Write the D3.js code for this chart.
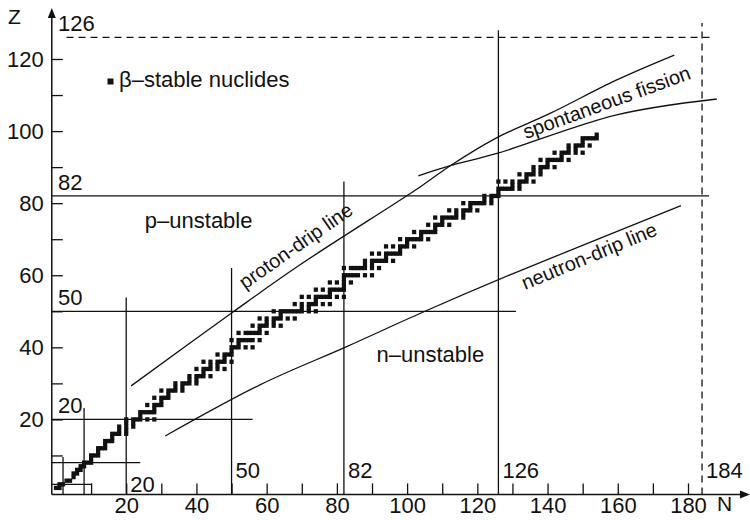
<!DOCTYPE html>
<html>
<head>
<meta charset="utf-8">
<script src="https://cdn.jsdelivr.net/npm/d3@7"></script>
<style>
  body { margin: 0; background: #fff; }
  svg text { font-family: "Liberation Sans", Arial, Helvetica, sans-serif; fill: #111; }
</style>
</head>
<body>
<div id="target"></div>
<script>
const width = 750,
  height = 520;

// beta-stable nuclides: [mass number A, Z of each beta-stable isobar]
const betaStable = [
  [1,1],[2,1],[3,2],[4,2],[6,3],[7,3],[9,4],[10,5],[11,5],[12,6],[13,6],[14,7],[15,7],[16,8],[17,8],[18,8],
  [19,9],[20,10],[21,10],[22,10],[23,11],[24,12],[25,12],[26,12],[27,13],[28,14],[29,14],[30,14],[31,15],
  [32,16],[33,16],[34,16],[35,17],[36,16,18],[37,17],[38,18],[39,19],[40,18,20],[41,19],[42,20],[43,20],
  [44,20],[45,21],[46,20,22],[47,22],[48,20,22],[49,22],[50,22,24],[51,23],[52,24],[53,24],[54,24,26],
  [55,25],[56,26],[57,26],[58,26,28],[59,27],[60,28],[61,28],[62,28],[63,29],[64,28,30],[65,29],[66,30],
  [67,30],[68,30],[69,31],[70,30,32],[71,31],[72,32],[73,32],[74,32,34],[75,33],[76,32,34],[77,34],
  [78,34,36],[79,35],[80,34,36],[81,35],[82,34,36],[83,36],[84,36,38],[85,37],[86,36,38],[87,38],[88,38],
  [89,39],[90,40],[91,40],[92,40,42],[93,41],[94,40,42],[95,42],[96,40,42,44],[97,42],[98,42,44],[99,44],
  [100,42,44],[101,44],[102,44,46],[103,45],[104,44,46],[105,46],[106,46,48],[107,47],[108,46,48],[109,47],
  [110,46,48],[111,48],[112,48,50],[113,49],[114,48,50],[115,50],[116,48,50],[117,50],[118,50],[119,50],
  [120,50,52],[121,51],[122,50,52],[123,51],[124,50,52,54],[125,52],[126,52,54],[127,53],[128,52,54],
  [129,54],[130,52,54,56],[131,54],[132,54,56],[133,55],[134,54,56],[135,56],[136,54,56,58],[137,56],
  [138,56,58],[139,57],[140,58],[141,59],[142,58,60],[143,60],[144,60,62],[145,60],[146,60,62],[147,62],
  [148,60,62],[149,62],[150,60,62],[151,63],[152,62,64],[153,63],[154,62,64],[155,64],[156,64,66],[157,64],
  [158,64,66],[159,65],[160,64,66],[161,66],[162,66,68],[163,66],[164,66,68],[165,67],[166,68],[167,68],
  [168,68,70],[169,69],[170,68,70],[171,70],[172,70],[173,70],[174,70,72],[175,71],[176,70,72],[177,72],
  [178,72],[179,72],[180,72,74],[181,73],[182,74],[183,74],[184,74,76],[185,75],[186,74,76],[187,76],
  [188,76],[189,76],[190,76,78],[191,77],[192,76,78],[193,77],[194,78],[195,78],[196,78,80],[197,79],
  [198,78,80],[199,80],[200,80],[201,80],[202,80],[203,81],[204,80,82],[205,81],[206,82],[207,82],[208,82],
  [209,83],[210,84],[211,84],[212,84,86],[213,84],[214,84,86],[215,85],[216,84,86],[217,85],[218,86],
  [219,86],[220,86,88],[221,87],[222,86,88],[223,88],[224,88],[225,89],[226,88,90],[227,89],[228,90],
  [229,90],[230,90,92],[231,91],[232,90,92],[233,92],[234,92],[235,92],[236,92,94],[237,93],[238,92,94],
  [239,94],[240,94],[241,95],[242,94,96],[243,95],[244,94,96],[245,96],[246,96],[247,97],[248,96,98],
  [249,98],[250,98],[251,98],[252,98],[253,99]
];

// magic numbers and how far each shell line reaches
const magicN = [2, 8, 20, 50, 82, 126, 184];
const magicNTop = [9.6, 23.2, 53.8, 62, 86, 128, 130];
const magicZ = [2, 8, 20, 50, 82, 126];
const magicZEnd = [10, 24, 56, 131, 186, 187];
const magicNLabels = [20, 50, 82, 126, 184];
const magicZLabels = [20, 50, 82, 126];

// curves as [N, Z]
const protonDrip = [[21.4,29.3],[50.4,49.8],[69.5,62.9],[103.7,84.5],[112.3,90.4],[125.6,98.2],[140.7,104.9],[159.7,114.2],[176.1,121.1]];
const fissionLine = [[103.2,87.6],[112.3,90.4],[125.6,93.8],[159.7,104.5],[188.2,108.9]];
const neutronDrip = [[31.1,15.4],[58.1,29.6],[82.8,40.2],[104.6,49.8],[129.3,60.1],[178.0,79.3]];

const xTicks = d3.range(10, 190, 10);
const yTicks = d3.range(10, 130, 10);

const x = d3.scaleLinear().domain([0, 180]).range([56, 688]);
const y = d3.scaleLinear().domain([0, 120]).range([491.5, 59]);

const ink = "#111";
const fontSize = 22;

const svg = d3.select("#target").append("svg")
  .attr("width", width)
  .attr("height", height);

const x0 = x(-1.2), y0 = y(-0.8);

// shell closure lines
magicZ.forEach((z, i) => {
  svg.append("line")
    .attr("x1", z === 126 ? x(3) : x0).attr("x2", x(magicZEnd[i]))
    .attr("y1", y(z)).attr("y2", y(z))
    .attr("stroke", ink).attr("stroke-width", 1.3)
    .attr("stroke-dasharray", z === 126 ? "7,5" : null);
});
magicN.forEach((n, i) => {
  svg.append("line")
    .attr("x1", x(n)).attr("x2", x(n))
    .attr("y1", y0).attr("y2", y(magicNTop[i]))
    .attr("stroke", ink).attr("stroke-width", 1.3)
    .attr("stroke-dasharray", n === 184 ? "7,5" : null);
});

svg.selectAll(".nlab")
  .data(magicNLabels)
  .enter()
  .append("text")
  .attr("x", (d) => x(d) + 4)
  .attr("y", (d) => d === 20 ? 492 : 478)
  .attr("font-size", fontSize)
  .text((d) => d);

svg.selectAll(".zlab")
  .data(magicZLabels)
  .enter()
  .append("text")
  .attr("x", 58)
  .attr("y", (d) => y(d) - 6)
  .attr("font-size", fontSize)
  .text((d) => d);

// drip lines and fission limit
const line = d3.line()
  .x((d) => x(d[0]))
  .y((d) => y(d[1]))
  .curve(d3.curveCatmullRom);

[protonDrip, fissionLine, neutronDrip].forEach((pts) => {
  svg.append("path")
    .attr("d", line(pts))
    .attr("fill", "none")
    .attr("stroke", ink)
    .attr("stroke-width", 1.3);
});

// nuclides
const nuclides = [];
betaStable.forEach((row) => {
  row.slice(1).forEach((z) => nuclides.push({ n: row[0] - z, z: z }));
});

const sw = (x(1) - x(0)) * 1.2, sh = (y(0) - y(1)) * 1.2;
svg.selectAll(".nuc")
  .data(nuclides)
  .enter()
  .append("rect")
  .attr("x", (d) => x(d.n) - sw / 2)
  .attr("y", (d) => y(d.z) - sh / 2)
  .attr("width", sw)
  .attr("height", sh)
  .attr("fill", ink);

// axes
const xAxis = svg.append("g")
  .attr("transform", `translate(0,${y0})`)
  .call(d3.axisBottom(x).tickValues(xTicks).tickSize(-11).tickPadding(3)
    .tickFormat((d) => d % 20 === 0 ? d : ""));
const yAxis = svg.append("g")
  .attr("transform", `translate(${x0},0)`)
  .call(d3.axisLeft(y).tickValues(yTicks).tickSize(-11).tickPadding(8)
    .tickFormat((d) => d % 20 === 0 ? d : ""));

[xAxis, yAxis].forEach((g) => {
  g.select(".domain").remove();
  g.selectAll(".tick line").attr("stroke", ink).attr("stroke-width", 1.3);
  g.selectAll(".tick text")
    .attr("font-size", fontSize)
    .attr("font-family", "'Liberation Sans', Arial, Helvetica, sans-serif")
    .attr("fill", ink);
});

svg.append("line")
  .attr("x1", x0).attr("x2", 742).attr("y1", y0).attr("y2", y0)
  .attr("stroke", ink).attr("stroke-width", 1.5);
svg.append("path")
  .attr("d", `M750,${y0} L740,${y0 - 4} L740,${y0 + 4} Z`)
  .attr("fill", ink);
svg.append("line")
  .attr("x1", x0).attr("x2", x0).attr("y1", y0).attr("y2", 17)
  .attr("stroke", ink).attr("stroke-width", 1.5);
svg.append("path")
  .attr("d", `M${x0},8 L${x0 - 4},18 L${x0 + 4},18 Z`)
  .attr("fill", ink);

svg.append("text").attr("x", 8).attr("y", 24).attr("font-size", 21).text("Z");
svg.append("text").attr("x", 717).attr("y", 511).attr("font-size", 21).text("N");

// legend
svg.append("rect")
  .attr("x", 107.5).attr("y", 78.5).attr("width", 6).attr("height", 6)
  .attr("fill", ink);
svg.append("text")
  .attr("x", 119).attr("y", 87)
  .attr("font-size", fontSize)
  .text("β–stable nuclides");

// region and curve labels
svg.append("text")
  .attr("x", x(25.3)).attr("y", y(73.1))
  .attr("font-size", fontSize)
  .text("p–unstable");
svg.append("text")
  .attr("x", x(91.3)).attr("y", y(35.9))
  .attr("font-size", fontSize)
  .text("n–unstable");

const rotated = [
  { t: "proton-drip line", n: 69.4, z: 66.6, a: -35 },
  { t: "spontaneous fission", n: 157.5, z: 106.2, a: -20 },
  { t: "neutron-drip line", n: 152.6, z: 63.6, a: -22.5 }
];
svg.selectAll(".rot")
  .data(rotated)
  .enter()
  .append("text")
  .attr("transform", (d) => `translate(${x(d.n)},${y(d.z)}) rotate(${d.a})`)
  .attr("text-anchor", "middle")
  .attr("font-size", 20)
  .text((d) => d.t);
</script>
</body>
</html>
